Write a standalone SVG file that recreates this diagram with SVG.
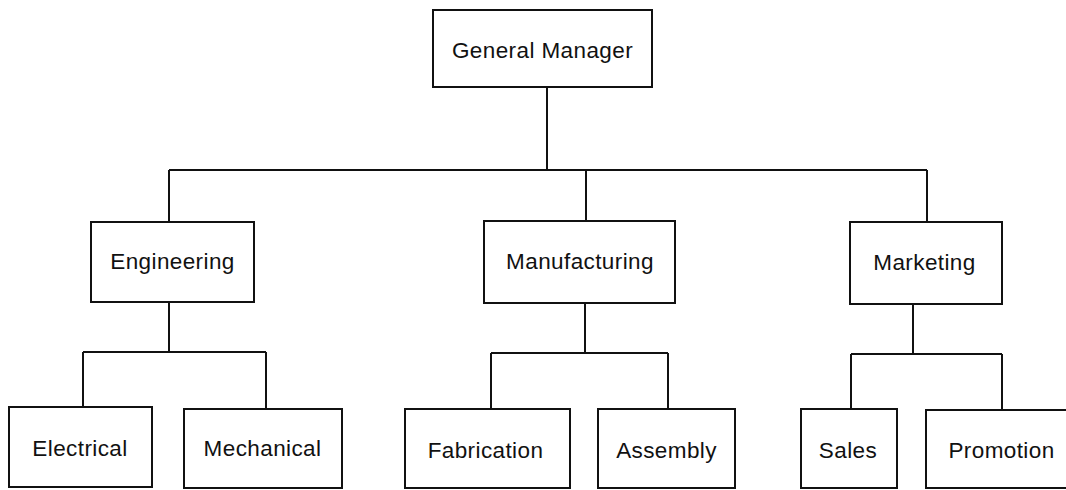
<svg xmlns="http://www.w3.org/2000/svg" width="1066" height="490" viewBox="0 0 1066 490">
<style>
.box{fill:#fff;stroke:#111;stroke-width:2}
.lbl{font-family:"Liberation Sans",Arial,sans-serif;font-size:22.5px;fill:#111;text-anchor:middle;letter-spacing:0.4px}
.con{fill:none;stroke:#111;stroke-width:2}
</style>
<rect width="1066" height="490" fill="#fff"/>
<g id="connectors">
<path class="con" d="M547 87V170M169 170H927M169 170V222M586 170V221M927 170V222"/>
<path class="con" d="M169 302V352M83 352H266M83 352V407M266 352V409"/>
<path class="con" d="M585 303V353M491 353H668M491 353V409M668 353V409"/>
<path class="con" d="M913 304V354M851 354H1002M851 354V409M1002 354V410"/>
</g>
<g id="general-manager"><rect class="box" x="433" y="10" width="219" height="77"/><text class="lbl" x="542.5" y="58">General Manager</text></g>
<g id="engineering"><rect class="box" x="91" y="222" width="163" height="80"/><text class="lbl" x="172.5" y="269">Engineering</text></g>
<g id="manufacturing"><rect class="box" x="484" y="221" width="191" height="82"/><text class="lbl" x="580" y="269">Manufacturing</text></g>
<g id="marketing"><rect class="box" x="850" y="222" width="152" height="82"/><text class="lbl" x="924.5" y="270">Marketing</text></g>
<g id="electrical"><rect class="box" x="9" y="407" width="143" height="80"/><text class="lbl" x="80" y="456">Electrical</text></g>
<g id="mechanical"><rect class="box" x="184" y="409" width="158" height="79"/><text class="lbl" x="262.5" y="456">Mechanical</text></g>
<g id="fabrication"><rect class="box" x="405" y="409" width="165" height="79"/><text class="lbl" x="485.5" y="458">Fabrication</text></g>
<g id="assembly"><rect class="box" x="598" y="409" width="137" height="79"/><text class="lbl" x="666.5" y="458">Assembly</text></g>
<g id="sales"><rect class="box" x="801" y="409" width="96" height="79"/><text class="lbl" x="848" y="458">Sales</text></g>
<g id="promotion"><rect class="box" x="926" y="410" width="150" height="78"/><text class="lbl" x="1001.5" y="458">Promotion</text></g>
</svg>
